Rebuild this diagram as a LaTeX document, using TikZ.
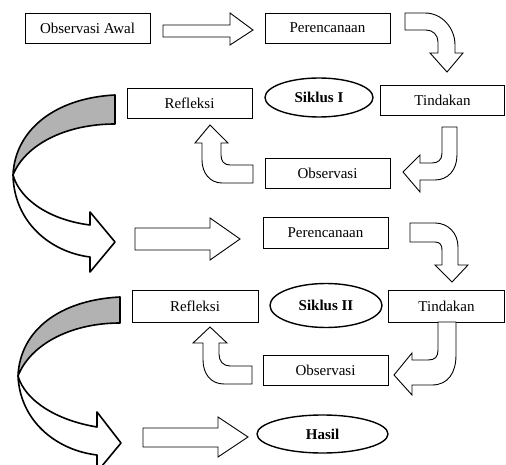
\documentclass[tikz,border=0pt]{standalone}
\usepackage{fontspec}
\setmainfont{Liberation Serif}
\usetikzlibrary{shapes.geometric}
\begin{document}
\begin{tikzpicture}[x=1pt,y=-1pt,
  box/.style={draw, line width=0.9pt, rectangle, inner sep=0pt, font=\fontsize{15}{18}\selectfont},
  oval/.style={draw, line width=1.4pt, ellipse, inner sep=0pt, font=\fontsize{15}{18}\selectfont\bfseries},
  barrow/.style={draw, line width=0.9pt, fill=white, line join=miter},
  ribbon/.style={draw, line width=1.6pt, line join=round},
  backside/.style={fill=black!30}
]
\useasboundingbox (0,0) rectangle (506,465);

% boxes
\node[box, minimum width=125pt, minimum height=30pt] (oa) at (87.5,28) {Observasi Awal};
\node[box, minimum width=125pt, minimum height=30pt] (p1) at (327.5,28) {Perencanaan};
\node[box, minimum width=125pt, minimum height=30pt] (r1) at (189.5,103) {Refleksi};
\node[oval, minimum width=108pt, minimum height=39pt] (s1) at (319,97.5) {Siklus I};
\node[box, minimum width=124pt, minimum height=30pt] (t1) at (442.5,100) {Tindakan};
\node[box, minimum width=125pt, minimum height=30pt] (o1) at (327.5,173) {Observasi};
\node[box, minimum width=125pt, minimum height=31pt] (p2) at (325.5,232.5) {Perencanaan};
\node[box, minimum width=126pt, minimum height=32pt] (r2) at (195,306) {Refleksi};
\node[oval, minimum width=112pt, minimum height=44pt] (s2) at (326,305.5) {Siklus II};
\node[box, minimum width=116pt, minimum height=32pt] (t2) at (446.5,306) {Tindakan};
\node[box, minimum width=125pt, minimum height=30pt] (o2) at (325.5,370) {Observasi};
\node[oval, minimum width=131pt, minimum height=38pt] (hs) at (322.5,434) {Hasil};

% straight block arrows
\draw[barrow] (163,25) -- (230,25) -- (230,13) -- (253,30) -- (230,45) -- (230,37) -- (163,37) -- cycle;
\draw[barrow] (135,228) -- (210,228) -- (210,218) -- (240,239) -- (210,260) -- (210,250) -- (135,250) -- cycle;
\draw[barrow] (143,428) -- (218,428) -- (218,417) -- (248,437) -- (218,457) -- (218,447) -- (143,447) -- cycle;

% bent arrow: Perencanaan 1 -> Tindakan 1
\draw[barrow] (405,13) -- (425,13) .. controls (442,13) and (455,28) .. (455,45) -- (455,53) -- (463,53) -- (447,72) -- (430,53) -- (438,53) -- (438,42) .. controls (438,35) and (433,30) .. (426,30) -- (405,30) -- cycle;
% bent arrow: Tindakan 1 -> Observasi 1
\draw[barrow] (442,127) -- (457,127) -- (457,155) .. controls (457,170) and (448,180) .. (435,180) -- (420,180) -- (420,192) -- (403,172) -- (420,155) -- (420,163) -- (432,163) .. controls (438,163) and (442,160) .. (442,153) -- cycle;
% bent arrow: Observasi 1 -> Refleksi 1
\draw[barrow] (253,165) -- (230,165) .. controls (224,165) and (221,161) .. (221,155) -- (221,143) -- (228,143) -- (210,125) -- (195,143) -- (202,143) -- (202,160) .. controls (202,173) and (210,183) .. (222,183) -- (253,183) -- cycle;

% bent arrow: Perencanaan 2 -> Tindakan 2
\draw[barrow] (410,223) -- (435,223) .. controls (448,223) and (458,233) .. (458,247) -- (458,265) -- (468,265) -- (452,282) -- (435,265) -- (442,265) -- (442,250) .. controls (442,245) and (440,242) .. (435,242) -- (410,242) -- cycle;
% bent arrow: Tindakan 2 -> Observasi 2
\draw[barrow] (438,322) -- (456,322) -- (456,355) .. controls (456,373) and (448,385) .. (432,385) -- (412,385) -- (412,395) -- (394,375) -- (412,353) -- (412,360) -- (428,360) .. controls (435,360) and (438,357) .. (438,350) -- cycle;
% bent arrow: Observasi 2 -> Refleksi 2
\draw[barrow] (252,366) -- (230,366) .. controls (223,366) and (219,361) .. (219,354) -- (219,343) -- (227,343) -- (210,327) -- (193,343) -- (203,343) -- (203,360) .. controls (203,374) and (211,384) .. (224,384) -- (252,384) -- cycle;

% ribbon arrow 1
\draw[ribbon, backside] (115,95) .. controls (55,98) and (15,130) .. (13,175) .. controls (25,145) and (65,124) .. (115,124) -- cycle;
\draw[ribbon, fill=white] (13,175) .. controls (14,222) and (50,252) .. (90,257) -- (90,272) -- (115,242) -- (90,212) -- (90,225) .. controls (50,220) and (20,200) .. (13,175) -- cycle;

% ribbon arrow 2
\draw[ribbon, backside] (120,297) .. controls (60,300) and (20,330) .. (18,376) .. controls (30,345) and (70,323) .. (120,323) -- cycle;
\draw[ribbon, fill=white] (18,376) .. controls (20,420) and (55,450) .. (97,455) -- (97,472) -- (121,443) -- (97,412) -- (97,427) .. controls (55,420) and (25,400) .. (18,376) -- cycle;

\end{tikzpicture}
\end{document}
